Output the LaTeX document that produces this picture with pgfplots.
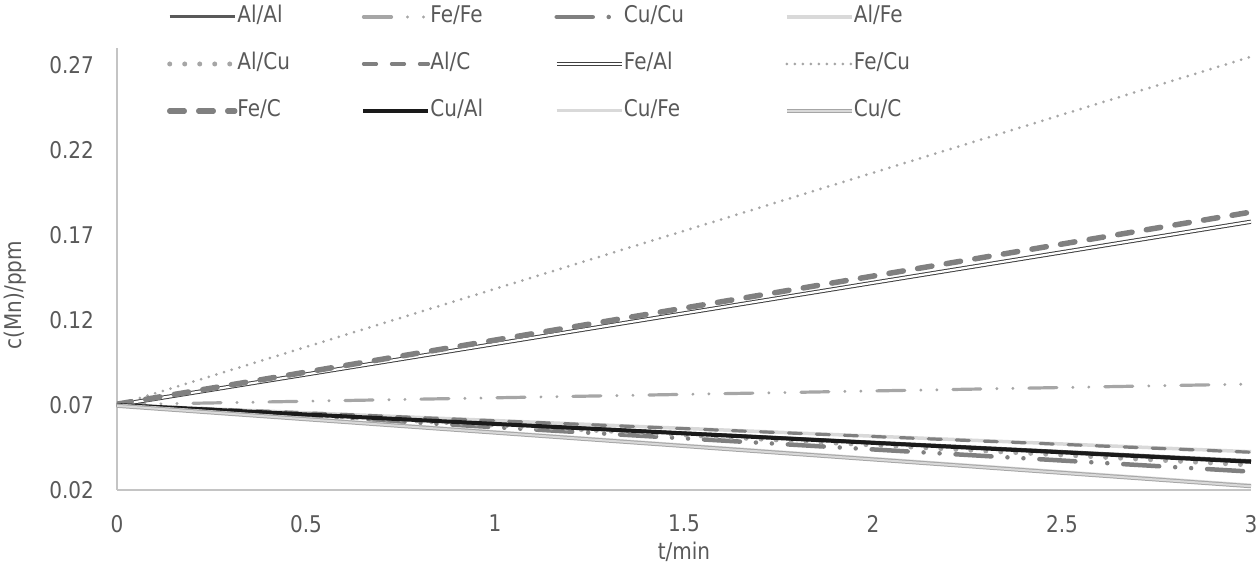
\documentclass[border=0pt]{standalone}
\usepackage{fontspec}
\setmainfont{DejaVu Sans}[FakeStretch=0.87]
\usepackage{pgfplots}
\pgfplotsset{compat=1.18}
\definecolor{txt}{HTML}{595959}
\definecolor{axl}{HTML}{C4C4C4}
\definecolor{g1}{HTML}{595959}
\definecolor{g2}{HTML}{A6A6A6}
\definecolor{g3}{HTML}{808080}
\definecolor{g4}{HTML}{D9D9D9}
\definecolor{blk}{HTML}{1A1A1A}
\newcommand{\cf}{\fontsize{11.5}{13}\selectfont}
\begin{document}
\begin{tikzpicture}
\useasboundingbox (-58.5pt,-38.5pt) rectangle (571.5pt,245pt);
\begin{axis}[
  scale only axis, width=567pt, height=221pt,
  xmin=0, xmax=3, ymin=0.02, ymax=0.28,
  xtick={0,0.5,1,1.5,2,2.5,3},
  xticklabels={0,0.5,1,1.5,2,2.5,3},
  ytick={0.02,0.07,0.12,0.17,0.22,0.27},
  yticklabels={0.02,0.07,0.12,0.17,0.22,0.27},
  scaled y ticks=false,
  axis x line=bottom, axis y line=left,
  axis line style={draw=axl, line width=0.8pt, -},
  major tick length=0pt,
  tick label style={color=txt, font=\cf},
  xticklabel style={yshift=-9pt},
  yticklabel style={xshift=-8pt},
  xlabel={t/min}, ylabel={c(Mn)/ppm},
  label style={color=txt, font=\cf},
  xlabel style={at={(axis description cs:0.5,-0.141)}, anchor=center},
  ylabel style={at={(axis description cs:-0.0899,0.441)}, anchor=center},
  legend image code/.code={\draw[#1] (0pt,0pt) -- (32.5pt,0pt);},
  legend columns=4,
  legend cell align=left,
  legend style={at={(rel axis cs:0,1)}, anchor=north west, xshift=25pt, yshift=21pt,
    draw=none, fill=none, inner sep=0pt, outer sep=0pt,
    row sep=12.5pt, column sep=0pt,
    /tikz/every odd column/.append style={column sep=0pt},
    nodes={inner sep=0pt, text height=8.5pt, text depth=2.5pt, text=txt, font=\cf}},
]
% Al/Al
\addplot[g1, line width=1.5pt] coordinates {(0,0.0700) (3,0.0372)};
\addlegendentry{\makebox[62pt][l]{Al/Al}}
% Fe/Fe
\addplot[g2, line width=1.6pt, line cap=round, dash pattern=on 14pt off 8pt on 0pt off 8pt on 0pt off 8pt] coordinates {(0,0.0702) (3,0.0823)};
\addlegendentry{\makebox[62pt][l]{Fe/Fe}}
% Cu/Cu
\addplot[g3, line width=2.25pt, line cap=round, dash pattern=on 18pt off 8pt on 0pt off 8pt on 0pt off 8pt] coordinates {(0,0.0700) (3,0.0308)};
\addlegendentry{\makebox[80.5pt][l]{Cu/Cu}}
% Al/Fe
\addplot[g4, line width=1.75pt] coordinates {(0,0.0700) (3,0.0425)};
\addlegendentry{Al/Fe}
% Al/Cu
\addplot[g2, line width=2.5pt, line cap=round, dash pattern=on 0pt off 7.5pt] coordinates {(0,0.0700) (3,0.0347)};
\addlegendentry{\makebox[62pt][l]{Al/Cu}}
% Al/C
\addplot[g3, line width=1.6pt, line cap=round, dash pattern=on 6.5pt off 7.5pt] coordinates {(0,0.0700) (3,0.0422)};
\addlegendentry{\makebox[62pt][l]{Al/C}}
% Fe/Al
\addplot[black!75, line width=0.5pt, double=white, double distance=1.1pt] coordinates {(0,0.0700) (3,0.1778)};
\addlegendentry{\makebox[80.5pt][l]{Fe/Al}}
% Fe/Cu
\addplot[g2, line width=1.5pt, line cap=round, dash pattern=on 0pt off 4pt] coordinates {(0,0.0700) (3,0.2749)};
\addlegendentry{Fe/Cu}
% Fe/C
\addplot[g3, line width=2.75pt, line cap=round, dash pattern=on 7.25pt off 7.25pt] coordinates {(0,0.0705) (3,0.1835)};
\addlegendentry{\makebox[62pt][l]{Fe/C}}
% Cu/Al
\addplot[blk, line width=2pt] coordinates {(0,0.0700) (3,0.0366)};
\addlegendentry{\makebox[62pt][l]{Cu/Al}}
% Cu/Fe
\addplot[g4, line width=1.5pt] coordinates {(0,0.0700) (3,0.0229)};
\addlegendentry{\makebox[80.5pt][l]{Cu/Fe}}
% Cu/C
\addplot[g2, line width=0.5pt, double=g4, double distance=1pt] coordinates {(0,0.0695) (3,0.0222)};
\addlegendentry{Cu/C}
\end{axis}
\end{tikzpicture}
\end{document}
